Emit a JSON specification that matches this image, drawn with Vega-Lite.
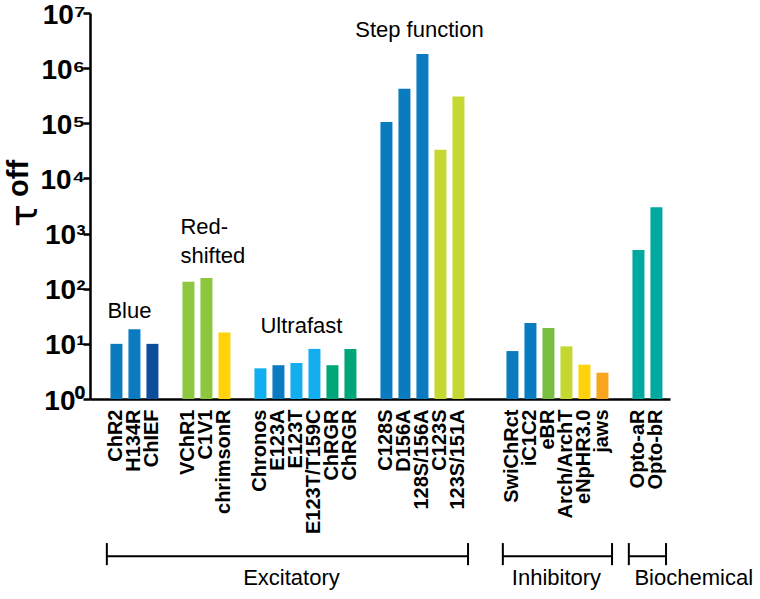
{
  "$schema": "https://vega.github.io/schema/vega-lite/v6.json",
  "autosize": {"type": "none"},
  "padding": {"left": 90, "top": 13, "right": 90, "bottom": 200},
  "width": 580,
  "height": 386,
  "background": "white",
  "config": {"view": {"stroke": null}, "font": "Liberation Sans"},
  "datasets": {
    "bars": [
      {"name": "ChR2", "tau": 10, "kind": "blue"},
      {"name": "H134R", "tau": 18.4, "kind": "blue"},
      {"name": "ChIEF", "tau": 10, "kind": "navy"},
      {"name": "VChR1", "tau": 134, "kind": "lime"},
      {"name": "C1V1", "tau": 157, "kind": "lime"},
      {"name": "chrimsonR", "tau": 16, "kind": "gold"},
      {"name": "Chronos", "tau": 3.6, "kind": "sky"},
      {"name": "E123A", "tau": 4.1, "kind": "blue"},
      {"name": "E123T", "tau": 4.5, "kind": "sky"},
      {"name": "E123T/T159C", "tau": 8.1, "kind": "sky"},
      {"name": "ChRGR", "tau": 4.1, "kind": "emerald"},
      {"name": "ChRGR#2", "tau": 8.1, "kind": "emerald"},
      {"name": "C128S", "tau": 105000, "kind": "blue"},
      {"name": "D156A", "tau": 423000, "kind": "blue"},
      {"name": "128S/156A", "tau": 1800000, "kind": "blue"},
      {"name": "C123S", "tau": 33000, "kind": "chartreuse"},
      {"name": "123S/151A", "tau": 306000, "kind": "chartreuse"},
      {"name": "SwiChRct", "tau": 7.4, "kind": "blue"},
      {"name": "iC1C2", "tau": 24, "kind": "blue"},
      {"name": "eBR", "tau": 19.4, "kind": "green"},
      {"name": "Arch/ArchT", "tau": 9, "kind": "chartreuse"},
      {"name": "eNpHR3.0", "tau": 4.2, "kind": "gold"},
      {"name": "jaws", "tau": 3, "kind": "orange"},
      {"name": "Opto-aR", "tau": 506, "kind": "teal"},
      {"name": "Opto-bR", "tau": 3013, "kind": "teal"}
    ],
    "groups": [
      {"group": "Excitatory", "first": "ChR2", "last": "123S/151A"},
      {"group": "Inhibitory", "first": "SwiChRct", "last": "jaws"},
      {"group": "Biochemical", "first": "Opto-aR", "last": "Opto-bR"}
    ]
  },
  "layer": [
    {
      "data": {"name": "bars"},
      "mark": {"type": "bar"},
      "encoding": {
        "x": {
          "field": "name", "type": "nominal", "sort": null,
          "scale": {"domain": ["ChR2","H134R","ChIEF","#g1","VChR1","C1V1","chrimsonR","#g2","Chronos","E123A","E123T","E123T/T159C","ChRGR","ChRGR#2","#g3","C128S","D156A","128S/156A","C123S","123S/151A","#g4","#g5","SwiChRct","iC1C2","eBR","Arch/ArchT","eNpHR3.0","jaws","#g6","Opto-aR","Opto-bR"], "paddingInner": 0.3333, "paddingOuter": 0.7778, "align": 0.73},
          "axis": {"title": null, "labelExpr": "split(datum.value, '#')[0]", "labelAngle": -90, "labelAlign": "right", "labelBaseline": "middle", "labelFont": "Liberation Sans", "labelFontWeight": "bold", "labelFontSize": 20, "labelColor": "black", "labelPadding": 10, "ticks": false, "tickSize": 0, "domainColor": "black", "domainWidth": 2.5, "labelOverlap": false, "labelLimit": 400}
        },
        "y": {
          "field": "tau", "type": "quantitative", "stack": null,
          "scale": {"type": "log", "domain": [1, 10000000], "nice": false},
          "axis": {"values": [1, 10, 100, 1000, 10000, 100000, 1000000, 10000000], "labelExpr": "'10' + ['⁰','¹','²','³','⁴','⁵','⁶','⁷'][round(log(datum.value) / LN10)]", "labelFont": "Liberation Sans", "labelFontWeight": "bold", "labelFontSize": 28, "labelOffset": 2, "labelColor": "black", "labelPadding": -2, "tickSize": 7, "tickWidth": 2.5, "tickColor": "black", "domainColor": "black", "domainWidth": 2.5, "grid": false, "title": "τ", "titleFont": "DejaVu Sans", "titleFontSize": 38, "titleFontWeight": "normal", "titleColor": "black", "titleAngle": 270, "titleBaseline": "alphabetic", "titleAlign": "center", "titleX": -54, "titleY": 202}
        },
        "color": {
          "field": "kind", "type": "nominal", "legend": null,
          "scale": {"domain": ["blue","navy","lime","gold","sky","emerald","chartreuse","green","orange","teal"], "range": ["#0b7bc1","#0d4e9c","#8dc63f","#ffd20a","#13aeef","#00a678","#c4d831","#79bd43","#f8a61d","#00a99d"]}
        }
      }
    },
    {
      "data": {"values": [{"sub": "off"}]},
      "mark": {"type": "text", "angle": 270, "align": "center", "baseline": "alphabetic", "font": "Liberation Sans", "fontWeight": "bold", "fontSize": 29, "color": "black", "dy": -82},
      "encoding": {
        "text": {"field": "sub"},
        "x": {"datum": "ChR2", "bandPosition": 0, "type": "nominal"},
        "y": {"datum": 10000, "type": "quantitative"}
      }
    },
    {
      "data": {"values": [{"label": "Blue"}]},
      "mark": {"type": "text", "align": "left", "baseline": "alphabetic", "fontSize": 22, "color": "black", "dx": -3},
      "encoding": {
        "text": {"field": "label"},
        "x": {"datum": "ChR2", "bandPosition": 0, "type": "nominal"},
        "y": {"datum": 29.5, "type": "quantitative"}
      }
    },
    {
      "data": {"values": [{"label": "Red-\nshifted"}]},
      "mark": {"type": "text", "align": "left", "baseline": "alphabetic", "fontSize": 22, "lineBreak": "\n", "lineHeight": 29, "color": "black", "dx": -2},
      "encoding": {
        "text": {"field": "label"},
        "x": {"datum": "VChR1", "bandPosition": 0, "type": "nominal"},
        "y": {"datum": 1000, "type": "quantitative"}
      }
    },
    {
      "data": {"values": [{"label": "Ultrafast"}]},
      "mark": {"type": "text", "align": "left", "baseline": "alphabetic", "fontSize": 22, "color": "black", "dx": 6},
      "encoding": {
        "text": {"field": "label"},
        "x": {"datum": "Chronos", "bandPosition": 0, "type": "nominal"},
        "y": {"datum": 15.8, "type": "quantitative"}
      }
    },
    {
      "data": {"values": [{"label": "Step function"}]},
      "mark": {"type": "text", "align": "center", "baseline": "alphabetic", "fontSize": 22, "color": "black", "dx": -3},
      "encoding": {
        "text": {"field": "label"},
        "x": {"datum": "128S/156A", "type": "nominal"},
        "y": {"datum": 3700000, "type": "quantitative"}
      }
    },
    {
      "data": {"name": "groups"},
      "mark": {"type": "rule", "color": "black", "strokeWidth": 2},
      "encoding": {
        "x": {"field": "first", "type": "nominal", "bandPosition": -0.3},
        "x2": {"field": "last", "bandPosition": 1.3},
        "y": {"datum": 0.00141, "type": "quantitative"}
      }
    },
    {
      "data": {"name": "groups"},
      "mark": {"type": "rule", "color": "black", "strokeWidth": 2},
      "encoding": {
        "x": {"field": "first", "type": "nominal", "bandPosition": -0.3},
        "y": {"datum": 0.00244, "type": "quantitative"},
        "y2": {"datum": 0.00097}
      }
    },
    {
      "data": {"name": "groups"},
      "mark": {"type": "rule", "color": "black", "strokeWidth": 2},
      "encoding": {
        "x": {"field": "last", "type": "nominal", "bandPosition": 1.3},
        "y": {"datum": 0.00244, "type": "quantitative"},
        "y2": {"datum": 0.00097}
      }
    },
    {
      "data": {"name": "groups"},
      "transform": [{"filter": "datum.group == 'Excitatory'"}],
      "mark": {"type": "text", "align": "center", "baseline": "alphabetic", "fontSize": 22, "color": "black", "dx": 13},
      "encoding": {
        "text": {"field": "group"},
        "x": {"datum": "E123A", "type": "nominal"},
        "y": {"datum": 0.00042, "type": "quantitative"}
      }
    },
    {
      "data": {"name": "groups"},
      "transform": [{"filter": "datum.group == 'Inhibitory'"}],
      "mark": {"type": "text", "align": "center", "baseline": "alphabetic", "fontSize": 22, "color": "black", "dx": 8},
      "encoding": {
        "text": {"field": "group"},
        "x": {"datum": "eBR", "type": "nominal"},
        "y": {"datum": 0.00042, "type": "quantitative"}
      }
    },
    {
      "data": {"name": "groups"},
      "transform": [{"filter": "datum.group == 'Biochemical'"}],
      "mark": {"type": "text", "align": "left", "baseline": "alphabetic", "fontSize": 22, "color": "black", "dx": 2},
      "encoding": {
        "text": {"field": "group"},
        "x": {"datum": "Opto-aR", "bandPosition": 0, "type": "nominal"},
        "y": {"datum": 0.00042, "type": "quantitative"}
      }
    }
  ]
}
